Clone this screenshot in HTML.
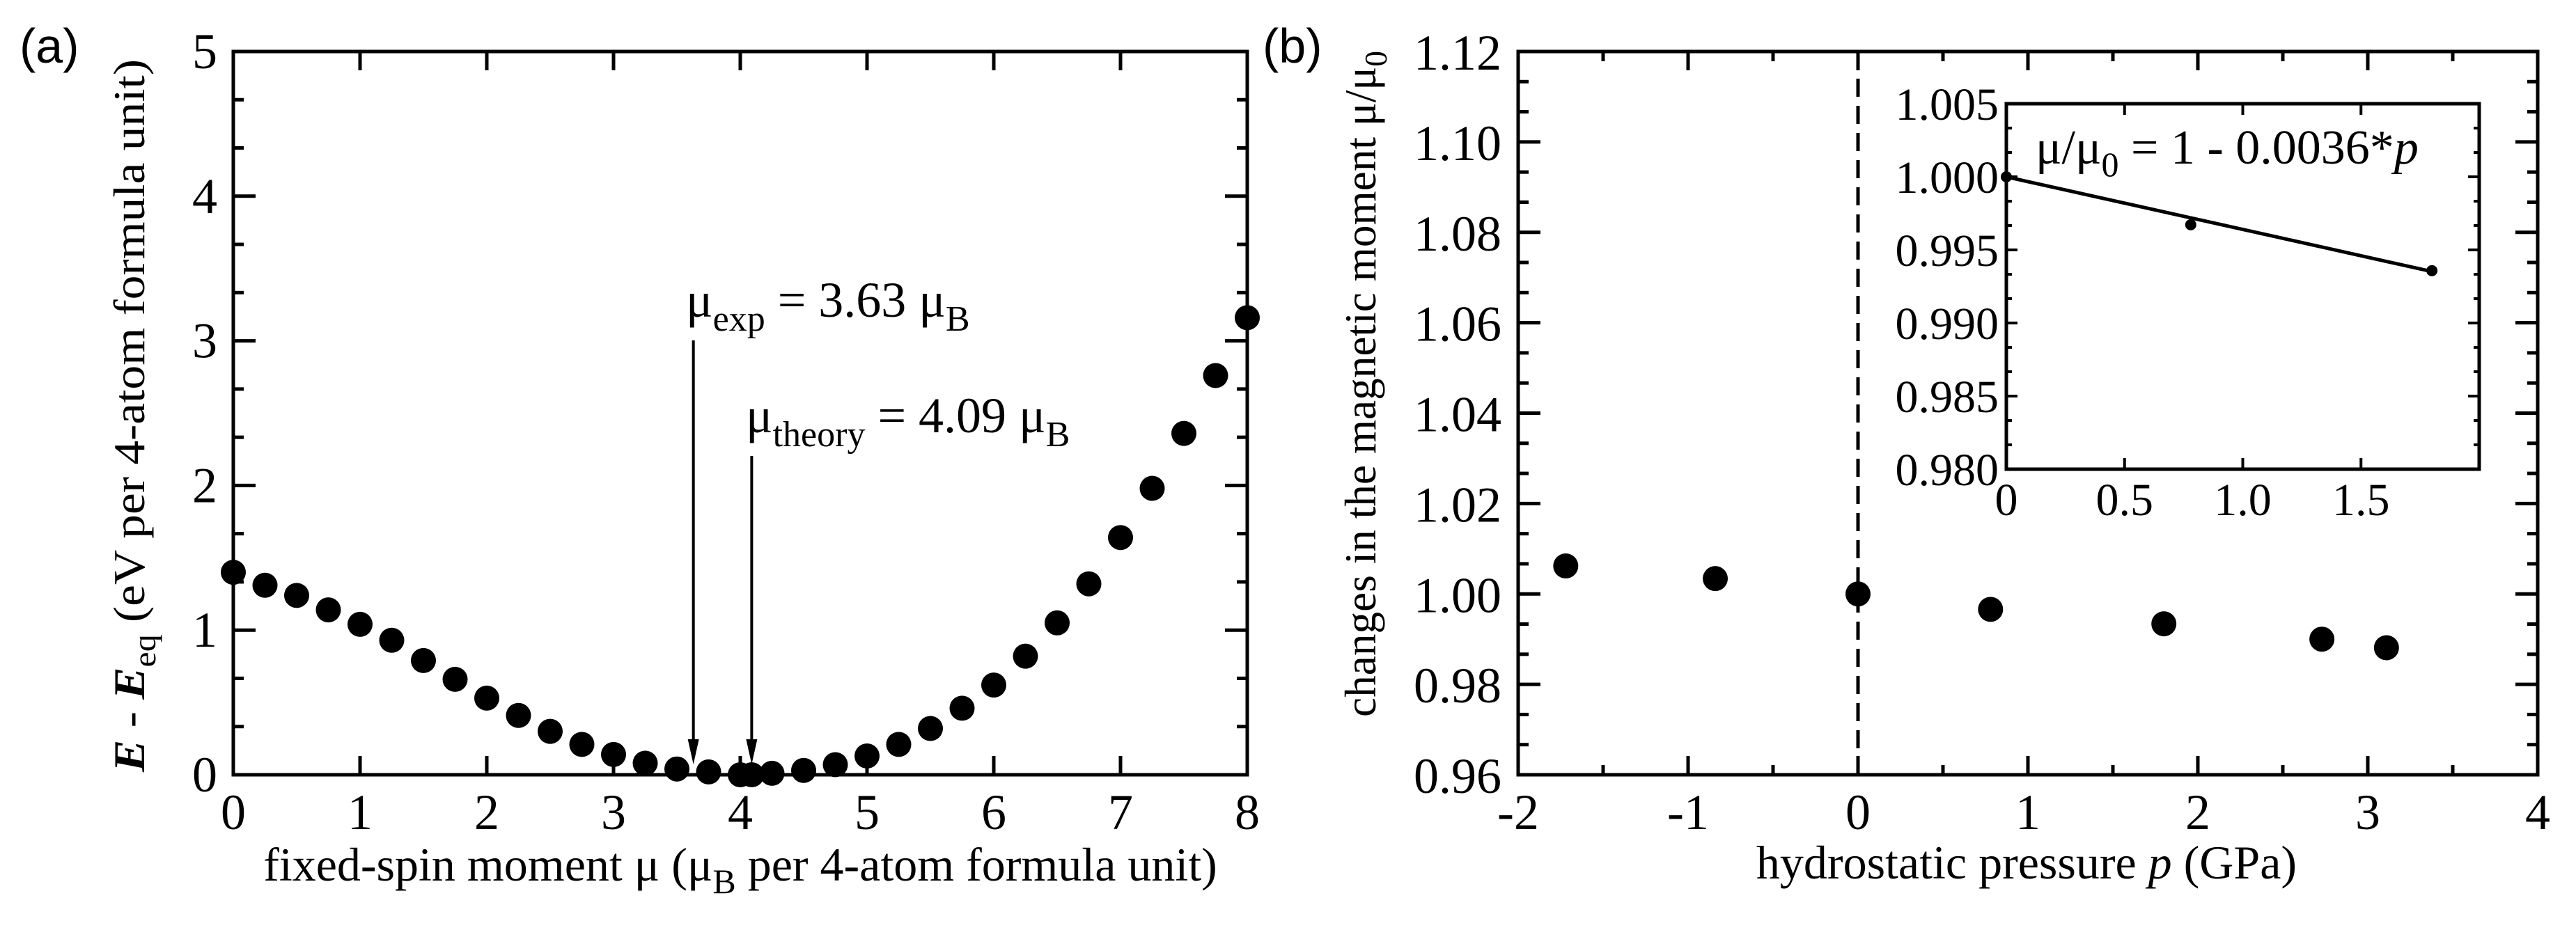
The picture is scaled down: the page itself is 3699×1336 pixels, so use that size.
<!DOCTYPE html>
<html><head><meta charset="utf-8"><style>
html,body{margin:0;padding:0;background:#fff;}
svg{font-family:"Liberation Serif","Times New Roman",serif;}
</style></head><body>
<svg id="fig" width="3699" height="1331" viewBox="0 0 3699 1331" xmlns="http://www.w3.org/2000/svg" font-family="'Liberation Serif', serif">
<g id="ga" font-family="'Liberation Serif', serif"></g>
<g id="gb" font-family="'Liberation Serif', serif"></g>
<g id="gi" font-family="'Liberation Serif', serif"></g>
</svg>
<script>
// Panel (a) data
const aMoments = [0,0.25,0.5,0.75,1,1.25,1.5,1.75,2,2.25,2.5,2.75,3,3.25,3.5,3.75,4,4.09,4.25,4.5,4.75,5,5.25,5.5,5.75,6,6.25,6.5,6.75,7,7.25,7.5,7.75,8];
const aEnergies = [1.40,1.31,1.24,1.14,1.04,0.93,0.79,0.66,0.53,0.41,0.30,0.21,0.14,0.08,0.04,0.02,0.0,0.0,0.01,0.03,0.07,0.13,0.21,0.32,0.46,0.62,0.82,1.05,1.32,1.64,1.98,2.36,2.76,3.16];
const aXTicks = [0,1,2,3,4,5,6,7,8];
const aYTicks = [0,1,2,3,4,5];
const aArrowX = [3.63,4.09];
// Panel (b) data
const bPressure = [-1.72,-0.84,0.0,0.78,1.80,2.73,3.11];
const bRatio = [1.0062,1.0034,1.0000,0.9966,0.9934,0.9900,0.9881];
const bXTicks = [-2,-1,0,1,2,3,4];
const bYTicks = [0.96,0.98,1.00,1.02,1.04,1.06,1.08,1.10,1.12];
// Inset data
const iPressure = [0,0.78,1.80];
const iRatio = [1.0000,0.99672,0.99358];
const iXTicks = [0,0.5,1.0,1.5,2.0];
const iXLabels = ["0","0.5","1.0","1.5",""];
const iYTicks = [0.980,0.985,0.990,0.995,1.000,1.005];
const iFitSlope = -0.0036;

const NS="http://www.w3.org/2000/svg";
const SERIF="'Liberation Serif', serif";
function mk(parent,tag,attrs,text){const e=document.createElementNS(NS,tag);for(const k in attrs)e.setAttribute(k,attrs[k]);if(tag==='text'&&!attrs['font-family'])e.setAttribute('font-family',SERIF);if(text!==undefined)e.textContent=text;parent.appendChild(e);return e;}

// ---------- Panel a ----------
const ga=document.getElementById('ga');
const aL=335,aR=1791,aT=74,aB=1113;
const ax=v=>aL+(v-0)/(8-0)*(aR-aL);
const ay=v=>aB-(v-0)/(5-0)*(aB-aT);
let fr=mk(ga,'rect',{x:aL,y:aT,width:aR-aL,height:aB-aT,fill:'none',stroke:'#000','stroke-width':5});


aXTicks.forEach(t=>{
  const x=ax(t);
  if(t>0&&t<8){
    let l=mk(ga,'line',{x1:x,y1:aB,x2:x,y2:aB-27,stroke:'#000','stroke-width':5});
    
    
    let l2=mk(ga,'line',{x1:x,y1:aT,x2:x,y2:aT+27,stroke:'#000','stroke-width':5});
    
    
  }
  let tx=mk(ga,'text',{x:x,y:1191,'font-size':72,'text-anchor':'middle'},String(t));
  
  
});
aYTicks.forEach((t,i)=>{
  const y=ay(t);
  if(t>0&&t<5){
    [[aL,aL+32],[aR,aR-32]].forEach(p=>{let l=mk(ga,'line',{x1:p[0],y1:y,x2:p[1],y2:y,stroke:'#000','stroke-width':5});
      
      });
  }
  if(i<aYTicks.length-1){
    [1/3,2/3].forEach(f=>{const ym=ay(t+f*(aYTicks[i+1]-t));
      [[aL,aL+15],[aR,aR-15]].forEach(p=>{let l=mk(ga,'line',{x1:p[0],y1:ym,x2:p[1],y2:ym,stroke:'#000','stroke-width':5});
        
        });});
  }
  let tx=mk(ga,'text',{x:312,y:y+24,'font-size':72,'text-anchor':'end'},String(t));
  
  
});
aMoments.forEach((m,i)=>{
  let c=mk(ga,'circle',{cx:ax(m),cy:ay(aEnergies[i]),r:18,fill:'#000'});
  
  
});
const arrowTops=[489,655];
aArrowX.forEach((v,i)=>{
  const x=ax(v);
  let l=mk(ga,'line',{x1:x,y1:arrowTops[i],x2:x,y2:1075,stroke:'#000','stroke-width':4});
  
  
  let h=mk(ga,'path',{d:`M${x-8},1062 L${x+8},1062 L${x},1098 Z`,fill:'#000'});
  
  
});
</script>
<script>
(function(){
const ga=document.getElementById('ga');
ga.insertAdjacentHTML('beforeend',
`<text x="985" y="455" font-size="72" font-family="'Liberation Serif', serif">μ<tspan font-size="52" dy="20">exp</tspan><tspan dy="-20"> = 3.63 μ</tspan><tspan font-size="52" dy="20">B</tspan></text>
<text x="1071" y="621" font-size="72" font-family="'Liberation Serif', serif">μ<tspan font-size="52" dy="20">theory</tspan><tspan dy="-20"> = 4.09 μ</tspan><tspan font-size="52" dy="20">B</tspan></text>
<text x="1063" y="1265" font-size="68" font-family="'Liberation Serif', serif" text-anchor="middle">fixed-spin moment μ (μ<tspan font-size="50" dy="18">B</tspan><tspan dy="-18"> per 4-atom formula unit)</tspan></text>
<text transform="translate(207,1109) rotate(-90)" font-size="64" font-family="'Liberation Serif', serif" textLength="1024" lengthAdjust="spacingAndGlyphs"><tspan font-style="italic" font-weight="bold">E</tspan> - <tspan font-style="italic" font-weight="bold">E</tspan><tspan font-size="46" dy="16">eq</tspan><tspan dy="-16"> (eV per 4-atom formula unit)</tspan></text>
<text x="28" y="90" font-size="70" style="font-family:'Liberation Sans',sans-serif">(a)</text>`);
})();
</script>
<script>
(function(){
const gb=document.getElementById('gb');
const bL=2180,bR=3644,bT=74,bB=1113;
const bx=v=>bL+(v+2)/6*(bR-bL);
const by=v=>bB-(v-0.96)/0.16*(bB-bT);
let fr=mk(gb,'rect',{x:bL,y:bT,width:bR-bL,height:bB-bT,fill:'none',stroke:'#000','stroke-width':5});


bXTicks.forEach((t,i)=>{
  const x=bx(t);
  if(i>0&&i<bXTicks.length-1){
    [[bB,bB-27],[bT,bT+27]].forEach(p=>{let l=mk(gb,'line',{x1:x,y1:p[0],x2:x,y2:p[1],stroke:'#000','stroke-width':5});
      
      });
  }
  if(i<bXTicks.length-1){
    const xm=bx(t+0.5);
    [[bB,bB-14],[bT,bT+14]].forEach(p=>{let l=mk(gb,'line',{x1:xm,y1:p[0],x2:xm,y2:p[1],stroke:'#000','stroke-width':5});
      
      });
  }
  let tx=mk(gb,'text',{x:x,y:1191,'font-size':72,'text-anchor':'middle'},String(t));
  
  
});
bYTicks.forEach((t,i)=>{
  const y=by(t);
  if(i>0&&i<bYTicks.length-1){
    [[bL,bL+32],[bR,bR-32]].forEach(p=>{let l=mk(gb,'line',{x1:p[0],y1:y,x2:p[1],y2:y,stroke:'#000','stroke-width':5});
      
      });
  }
  if(i<bYTicks.length-1){
    [1/3,2/3].forEach(f=>{const ym=by(t+f*0.02);
      [[bL,bL+15],[bR,bR-15]].forEach(p=>{let l=mk(gb,'line',{x1:p[0],y1:ym,x2:p[1],y2:ym,stroke:'#000','stroke-width':5});
        
        });});
  }
  let tx=mk(gb,'text',{x:2156,y:y+26,'font-size':72,'text-anchor':'end'},t.toFixed(2));
  
  
});
let dl=mk(gb,'line',{x1:bx(0),y1:bT,x2:bx(0),y2:bB,stroke:'#000','stroke-width':5,'stroke-dasharray':'26 13'});


bPressure.forEach((p,i)=>{
  let c=mk(gb,'circle',{cx:bx(p),cy:by(bRatio[i]),r:18,fill:'#000'});
  
  
});
gb.insertAdjacentHTML('beforeend',
`<text x="2910" y="1262" font-size="68" font-family="'Liberation Serif', serif" text-anchor="middle">hydrostatic pressure <tspan font-style="italic">p</tspan> (GPa)</text>
<text transform="translate(1975,1030) rotate(-90)" font-size="64" font-family="'Liberation Serif', serif" textLength="957" lengthAdjust="spacingAndGlyphs">changes in the magnetic moment μ/μ<tspan font-size="46" dy="16">0</tspan></text>
<text x="1813" y="90" font-size="70" style="font-family:'Liberation Sans',sans-serif">(b)</text>`);

const gi=document.getElementById('gi');
const iL=2881,iR=3560,iT=149,iB=674;
const ix=v=>iL+v/2*(iR-iL);
const iy=v=>iB-(v-0.980)/0.025*(iB-iT);
let ifr=mk(gi,'rect',{x:iL,y:iT,width:iR-iL,height:iB-iT,fill:'#fff',stroke:'#000','stroke-width':5});


iXTicks.forEach((t,i)=>{
  const x=ix(t);
  if(i>0&&i<iXTicks.length-1){
    [[iB,iB-16],[iT,iT+16]].forEach(p=>{let l=mk(gi,'line',{x1:x,y1:p[0],x2:x,y2:p[1],stroke:'#000','stroke-width':4});
      
      });
  }
  let tx=mk(gi,'text',{x:x,y:740,'font-size':66,'text-anchor':'middle'},iXLabels[i]);
  
  
});
iYTicks.forEach((t,i)=>{
  const y=iy(t);
  if(i>0&&i<iYTicks.length-1){
    [[iL,iL+16],[iR,iR-16]].forEach(p=>{let l=mk(gi,'line',{x1:p[0],y1:y,x2:p[1],y2:y,stroke:'#000','stroke-width':4});
      
      });
  }
  if(i<iYTicks.length-1){
    [1/3,2/3].forEach(f=>{const ym=iy(t+f*0.005);
      [[iL,iL+8],[iR,iR-8]].forEach(p=>{let l=mk(gi,'line',{x1:p[0],y1:ym,x2:p[1],y2:ym,stroke:'#000','stroke-width':4});
        
        });});
  }
  let tx=mk(gi,'text',{x:2870,y:y+23,'font-size':66,'text-anchor':'end'},t.toFixed(3));
  
  
});
const xEnd=iPressure[iPressure.length-1];
let fit=mk(gi,'line',{x1:ix(0),y1:iy(1),x2:ix(xEnd),y2:iy(1+iFitSlope*xEnd),stroke:'#000','stroke-width':5});


iPressure.forEach((p,i)=>{
  let c=mk(gi,'circle',{cx:ix(p),cy:iy(iRatio[i]),r:8,fill:'#000'});
  
  
});
gi.insertAdjacentHTML('beforeend',
`<text x="2923" y="235" font-size="70" font-family="'Liberation Serif', serif">μ/μ<tspan font-size="50" dy="18">0</tspan><tspan dy="-18"> = 1 - 0.0036*</tspan><tspan font-style="italic">p</tspan></text>`);
})();
</script>
</body></html>
